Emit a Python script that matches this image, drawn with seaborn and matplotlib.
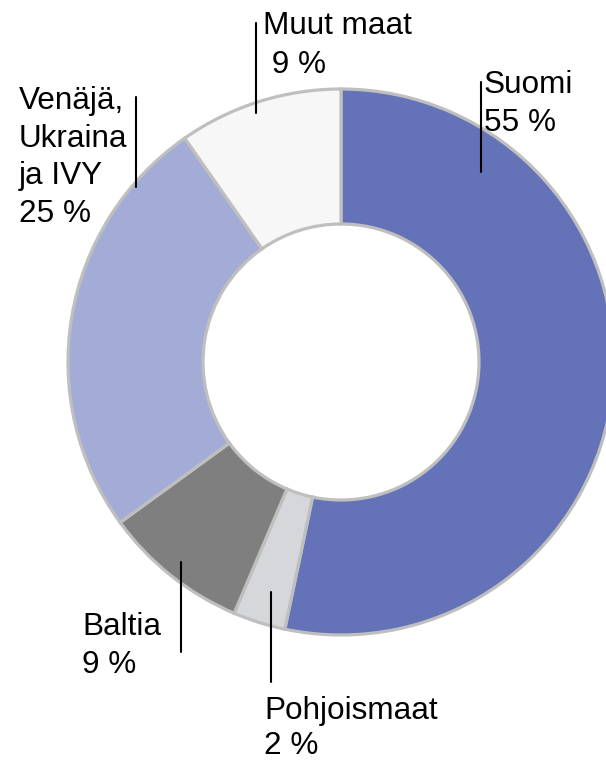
import numpy as np
import matplotlib
matplotlib.use('Agg')
import matplotlib.pyplot as plt
import seaborn as sns

regions = ['Suomi', 'Pohjoismaat', 'Baltia', 'Venäjä, Ukraina ja IVY', 'Muut maat']
shares = [53.3, 3.1, 8.6, 25.3, 9.7]
label_texts = ['Suomi\n55 %', 'Pohjoismaat\n2 %', 'Baltia\n9 %',
               'Venäjä,\nUkraina\nja IVY\n25 %', 'Muut maat\n 9 %']
colors = ['#6473B7', '#D6D7DA', '#7F7F7F', '#A3ACD6', '#F7F7F7']

sns.set_style('white')
plt.rcParams['font.family'] = ['Liberation Sans', 'DejaVu Sans']

W, H = 606, 762
fig = plt.figure(figsize=(W / 100, H / 100), dpi=100)
ax = fig.add_axes([0, 0, 1, 1])

palette = sns.color_palette(colors)
ax.pie(shares, colors=palette, startangle=90, counterclock=False,
       radius=273, center=(341, H - 362),
       wedgeprops=dict(width=135, edgecolor='#BFBFBF', linewidth=2.3))

# label positions in pixels (left, cap top), line spacing, leader lines (x, y0, y1)
label_pos = [(484, 70), (264, 696), (82, 612), (19, 86), (263, 11)]
spacing = [1.33, 1.2, 1.33, 1.33, 1.38]
leaders = [(480.7, 82, 172), (270.7, 592, 682), (180.7, 562, 652),
           (136, 97, 187), (256, 23, 113)]

for txt, (x, y), ls in zip(label_texts, label_pos, spacing):
    ax.text(x, H - y, txt, ha='left', va='top', fontsize=22.7,
            linespacing=ls, color='black')

for x, y0, y1 in leaders:
    ax.plot([x, x], [H - y0, H - y1], color='black', lw=1.5)

ax.set_xlim(0, W)
ax.set_ylim(0, H)
ax.set_aspect('equal')
ax.axis('off')

plt.savefig('out.png', dpi=100)
